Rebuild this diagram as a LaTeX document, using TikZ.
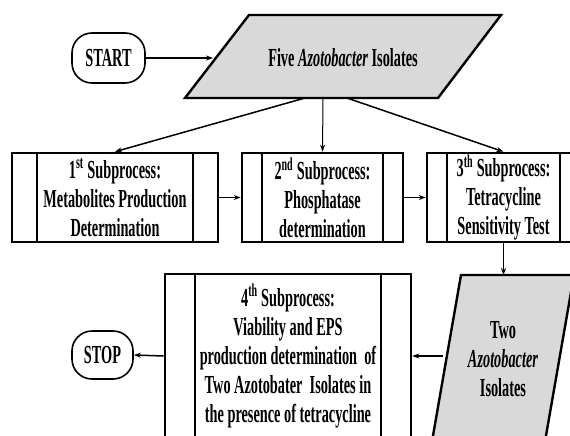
\documentclass[tikz,border=0pt]{standalone}
\usepackage{fontspec}
\setmainfont{Liberation Serif}[FakeStretch=0.55]
\usetikzlibrary{arrows.meta}

\begin{document}
\begin{tikzpicture}[x=1pt, y=-1pt, >={Stealth[length=7pt, width=5pt]},
  font=\fontsize{26}{29}\selectfont\bfseries,
  term/.style={draw, line width=1.6, rounded corners=20, inner sep=0pt},
  subproc/.style={draw, line width=2.6, inner sep=0pt, align=center,
    path picture={\draw[line width=1.6]
      ([xshift=#1]path picture bounding box.north west) -- ([xshift=#1]path picture bounding box.south west)
      ([xshift=-#1]path picture bounding box.north east) -- ([xshift=-#1]path picture bounding box.south east);}},
  data/.style={draw, line width=2.4, fill=black!15},
  flow/.style={->, line width=1.5}]
\useasboundingbox (0,0) rectangle (570,436);
\clip (0,0) rectangle (570,436);
% start and stop
\node[term, minimum width=73, minimum height=50] (start) at (108.5,58) {START};
\node[term, minimum width=61, minimum height=48] (stop) at (102.5,355) {STOP};
% five isolates (input)
\draw[data] (185,98) -- (249,15) -- (501,15) -- (438,98) -- cycle;
\node (five) at (343,58) {Five \textit{Azotobacter} Isolates};
\coordinate (fivein) at (213,58);
\coordinate (fiveL) at (305,98);
\coordinate (fiveM) at (323,98);
\coordinate (fiveR) at (347,98);
% subprocesses 1-3
\node[subproc=25, minimum width=206, minimum height=89] (sub1) at (115,197.5)
  {1\textsuperscript{st} Subprocess:\\ Metabolites Production\\ Determination};
\node[subproc=20, minimum width=161, minimum height=89] (sub2) at (322.5,197.5)
  {2\textsuperscript{nd} Subprocess:\\ Phosphatase\\ determination};
\node[subproc=20, minimum width=153, minimum height=89] (sub3) at (503.5,197.5)
  {3\textsuperscript{th} Subprocess:\\ Tetracycline\\ Sensitivity Test};
\draw[flow] (start.east) -- (fivein);
\draw[flow] (fiveL) -- (sub1.north);
\draw[flow, line width=1] (fiveM) -- (sub2.north);
\draw[flow] (fiveR) -- (sub3.north);
\draw[flow] (sub1.east) -- (sub2.west);
\draw[flow] (sub2.east) -- (sub3.west);
% two isolates (output)
\draw[data] (461,275) -- (574,275) -- (543.5,450) -- (430.5,450) -- cycle;
\node[align=center] (two) at (503,359) {Two\\ \textit{Azotobacter}\\ Isolates};
\coordinate (twoin) at (503.5,275);
\coordinate (twoout) at (443,356);
% subprocess 4
\node[subproc=30, minimum width=246, minimum height=164] (sub4) at (288,356)
  {4\textsuperscript{th} Subprocess:\\ Viability and EPS\\ production determination\ \ of\\
   Two Azotobater\ \ Isolates in\\ the presence of tetracycline};
\draw[flow] (sub3.south) -- (twoin);
\draw[flow] (twoout) -- (sub4.east);
\draw[flow] (sub4.west) -- (stop.east);
\end{tikzpicture}
\end{document}
